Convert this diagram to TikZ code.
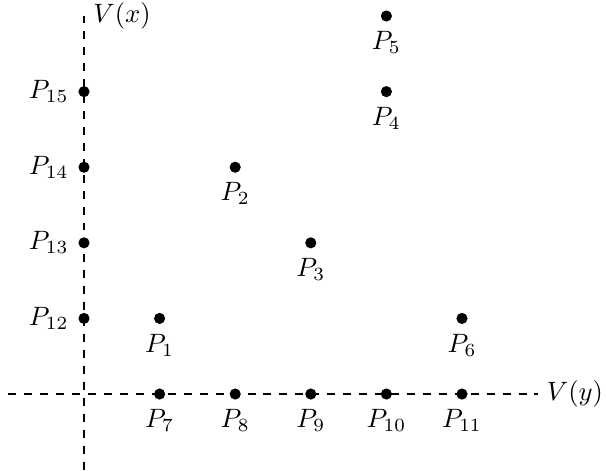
\documentclass[tikz,border=0pt]{standalone}
\begin{document}
\begin{tikzpicture}[x=1cm,y=1cm,
  pt/.style={circle,fill=black,inner sep=0pt,minimum size=4.2pt},
  axis/.style={dashed,thick}]
\useasboundingbox (-1.111,-1.018) rectangle (6.905,5.212);
\coordinate (xl) at (-1,0);
\coordinate (xr) at (6,0);
\coordinate (yb) at (0,-1);
\coordinate (yt) at (0,5);
\draw[axis] (xl) -- (xr);
\draw[axis] (yb) -- (yt);
\node[anchor=west] (vy) at (xr) {$V(y)$};
\node[anchor=west] (vx) at (yt) {$V(x)$};
\node[pt,label=below:$P_1$] (p1) at (1,1) {};
\node[pt,label=below:$P_2$] (p2) at (2,3) {};
\node[pt,label=below:$P_3$] (p3) at (3,2) {};
\node[pt,label=below:$P_4$] (p4) at (4,4) {};
\node[pt,label=below:$P_5$] (p5) at (4,5) {};
\node[pt,label=below:$P_6$] (p6) at (5,1) {};
\node[pt,label=below:$P_7$] (p7) at (1,0) {};
\node[pt,label=below:$P_8$] (p8) at (2,0) {};
\node[pt,label=below:$P_9$] (p9) at (3,0) {};
\node[pt,label=below:$P_{10}$] (p10) at (4,0) {};
\node[pt,label=below:$P_{11}$] (p11) at (5,0) {};
\node[pt,label=left:$P_{12}$] (p12) at (0,1) {};
\node[pt,label=left:$P_{13}$] (p13) at (0,2) {};
\node[pt,label=left:$P_{14}$] (p14) at (0,3) {};
\node[pt,label=left:$P_{15}$] (p15) at (0,4) {};
\end{tikzpicture}
\end{document}
